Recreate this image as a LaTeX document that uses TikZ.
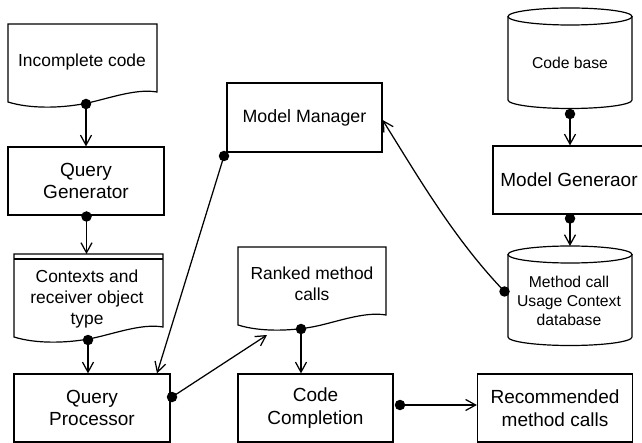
\documentclass[tikz,border=0pt]{standalone}
\usepackage{fontspec}
\setmainfont{Liberation Sans}
\usetikzlibrary{arrows.meta}
\begin{document}
\begin{tikzpicture}[x=1pt,y=-1pt,
  line width=1.2pt,
  box/.style={draw, rectangle, align=center, inner sep=0pt, font=\fontsize{19}{22.5}\selectfont},
  doctext/.style={align=center, inner sep=0pt, font=\fontsize{17.4}{21}\selectfont},
  cyltext/.style={align=center, inner sep=0pt, font=\fontsize{15.7}{19}\selectfont},
  conn/.style={-{Straight Barb[length=10pt,width=11pt]}, line width=1.25pt},
  dot/.style={fill=black, circle, inner sep=0pt, minimum size=10.5pt, draw=none}
]
\useasboundingbox (0,0) rectangle (642,443);

% ---- document shapes ----
\draw (8,102) -- (8,24) -- (157,24) -- (157,92)
  .. controls (134.7,88) and (104.9,100) .. (82.5,104)
  .. controls (60.2,108) and (30.4,109) .. (8,102) -- cycle;
\node[doctext] (ic) at (82,62) {Incomplete code};

\draw (14,337) -- (14,254) -- (163,254) -- (163,327)
  .. controls (140.7,323) and (110.9,335) .. (88.5,339)
  .. controls (66.2,343) and (36.4,344) .. (14,337) -- cycle;
\draw (14,259) -- (163,259);
\node[doctext] (ctx) at (87,299) {Contexts and\\receiver object\\type};
\coordinate (ctxtop) at (88,254);

\draw (238,325) -- (238,247) -- (386,247) -- (386,315)
  .. controls (363.8,311) and (334.2,323) .. (312,327)
  .. controls (289.8,331) and (260.2,332) .. (238,325) -- cycle;
\node[doctext] (rk) at (312,284) {Ranked method\\calls};
\coordinate (rkin) at (267,335);

% ---- cylinders ----
\draw (508,16.5) -- (508,100) arc[start angle=180,end angle=360,x radius=62pt,y radius=8.5pt] -- (632,16.5);
\draw (570,16.5) ellipse[x radius=62pt,y radius=8.5pt];
\node[cyltext] (cb) at (570,63) {Code base};

\draw (508,254.5) -- (508,337) arc[start angle=180,end angle=360,x radius=62pt,y radius=8.5pt] -- (632,254.5);
\draw (570,254.5) ellipse[x radius=62pt,y radius=8.5pt];
\node[cyltext] (db) at (569,301) {Method call\\Usage Context\\database};
\coordinate (dbtop) at (570,246);

% ---- boxes ----
\node[box, minimum width=156pt, minimum height=68pt] (qg) at (86,181) {Query\\Generator};
\node[box, minimum width=156pt, minimum height=68pt] (qp) at (92,408) {Query\\Processor};
\node[box, minimum width=155pt, minimum height=69pt, font=\fontsize{17.8}{21}\selectfont] (mm) at (304.5,117.5) {Model Manager};
\node[box, minimum width=155pt, minimum height=68pt] (cc) at (315.5,408) {Code\\Completion};
\node[box, minimum width=155pt, minimum height=68pt] (rec) at (555,408) {Recommended\\method calls};
\node[box, minimum width=152pt, minimum height=68pt] (mg) at (569,180) {Model Generaor};

% ---- dots ----
\node[dot] (dic) at (86,104) {};
\node[dot] (dqg) at (86.5,216.5) {};
\node[dot] (dctx) at (88,340) {};
\node[dot] (dmm) at (224,156) {};
\node[dot] (dqp) at (172,397) {};
\node[dot] (drk) at (301,329) {};
\node[dot] (dcc) at (400,405) {};
\node[dot] (dcb) at (570,114) {};
\node[dot] (dmg) at (570,218.5) {};
\node[dot] (ddb) at (504.5,291.5) {};

% ---- connectors ----
\draw[conn] (dic.center) -- (dic.center |- qg.north);
\draw[conn] (dqg.center) -- (dqg.center |- ctxtop);
\draw[conn] (dctx.center) -- (dctx.center |- qp.north);
\draw[conn] (dmm.center) -- ([xshift=65pt]qp.north);
\draw[conn] (dqp.center) -- (rkin);
\draw[conn] (drk.center) -- (drk.center |- cc.north);
\draw[conn] (dcc.center) -- (dcc.center -| rec.west);
\draw[conn] (dcb.center) -- (dcb.center |- mg.north);
\draw[conn] (dmg.center) -- (dbtop);
\draw[conn] (ddb.center) .. controls (455,240) and (420,180) .. ([yshift=-2.5pt]mm.east);
\end{tikzpicture}
\end{document}
